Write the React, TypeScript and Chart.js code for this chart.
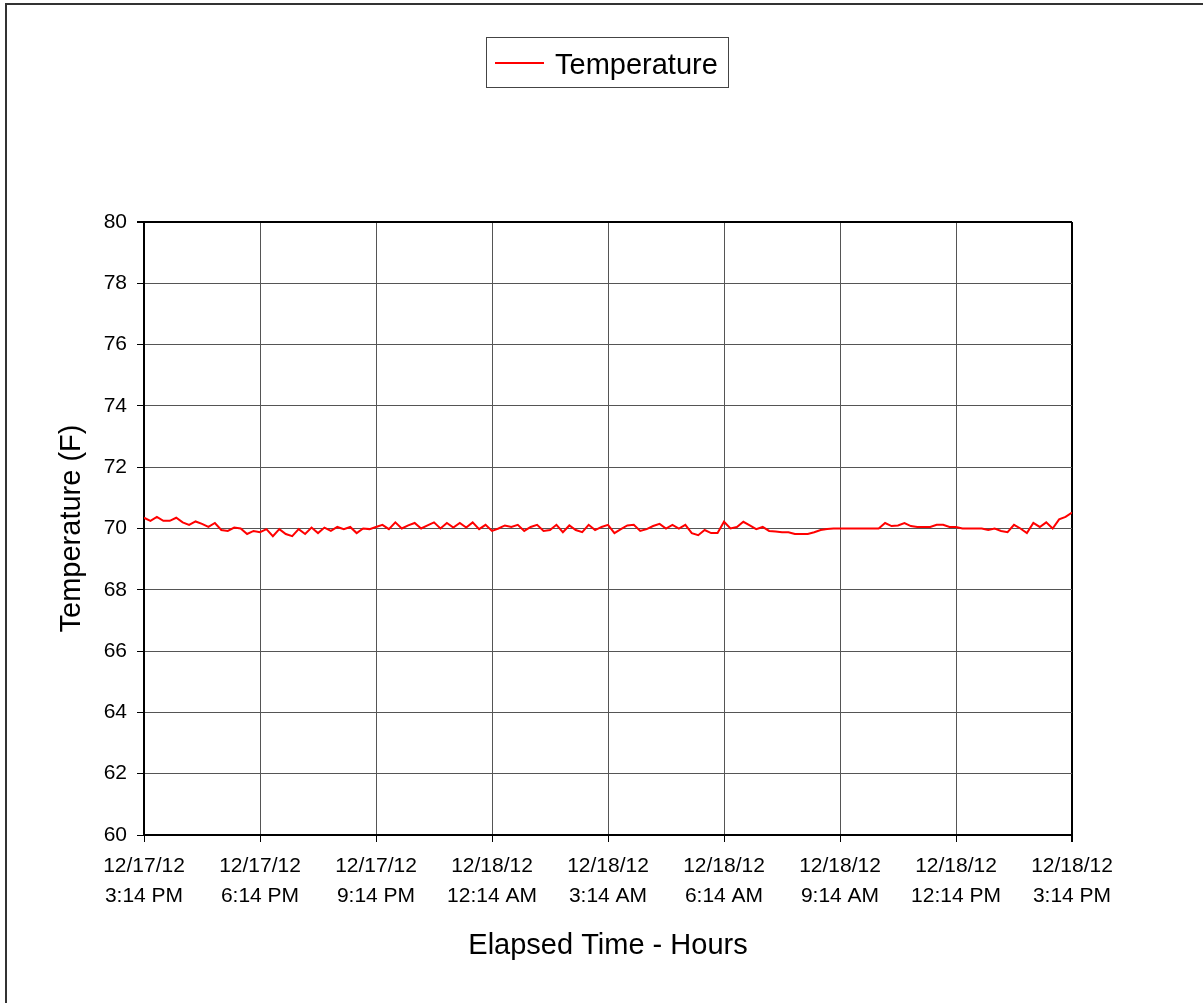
import React, { useEffect, useRef } from "react";
import { Chart, registerables } from "chart.js";

Chart.register(...registerables);

const seriesLabel = "Temperature";
const sampleMinutes = 10;
const temperatureF = [
  70.35, 70.25, 70.38, 70.25, 70.25, 70.35, 70.2, 70.12, 70.23, 70.15,
  70.05, 70.18, 69.95, 69.92, 70.03, 70.0, 69.82, 69.92, 69.88, 69.98,
  69.75, 69.98, 69.82, 69.75, 69.98, 69.82, 70.03, 69.85, 70.03, 69.92,
  70.05, 69.98, 70.05, 69.85, 70.0, 69.98, 70.05, 70.12, 69.98, 70.2,
  70.0, 70.1, 70.18, 70.0, 70.1, 70.2, 70.0, 70.18, 70.03, 70.18,
  70.03, 70.2, 69.98, 70.12, 69.92, 70.0, 70.1, 70.05, 70.12, 69.92,
  70.05, 70.12, 69.92, 69.95, 70.12, 69.88, 70.1, 69.95, 69.88, 70.12,
  69.95, 70.05, 70.12, 69.85, 69.98, 70.1, 70.12, 69.92, 69.98, 70.08,
  70.15, 70.0, 70.12, 70.0, 70.12, 69.85, 69.78, 69.95, 69.85, 69.85,
  70.22, 70.0, 70.05, 70.22, 70.1, 69.98, 70.05, 69.92, 69.9, 69.88,
  69.88, 69.82, 69.82, 69.82, 69.88, 69.95, 69.98, 70.0, 70.0, 70.0,
  70.0, 70.0, 70.0, 70.0, 70.0, 70.18, 70.08, 70.1, 70.18, 70.08,
  70.05, 70.05, 70.05, 70.12, 70.12, 70.05, 70.05, 70.0, 70.0, 70.0,
  70.0, 69.95, 70.0, 69.92, 69.88, 70.12, 70.0, 69.85, 70.18, 70.05,
  70.2, 70.0, 70.3, 70.38, 70.52,
];
const xTickLabels = [
  ["12/17/12", "3:14 PM"],
  ["12/17/12", "6:14 PM"],
  ["12/17/12", "9:14 PM"],
  ["12/18/12", "12:14 AM"],
  ["12/18/12", "3:14 AM"],
  ["12/18/12", "6:14 AM"],
  ["12/18/12", "9:14 AM"],
  ["12/18/12", "12:14 PM"],
  ["12/18/12", "3:14 PM"],
];
const xStepMinutes = 180;
const yMin = 60;
const yMax = 80;
const yStep = 2;
const xTitle = "Elapsed Time - Hours";
const yTitle = "Temperature (F)";

const FONT = "'Liberation Sans', Arial, sans-serif";

const legendPlugin = {
  id: "boxLegend",
  afterDraw(chart: any) {
    const ctx = chart.ctx;
    const ds = chart.data.datasets[0];
    ctx.save();
    ctx.strokeStyle = "#444";
    ctx.lineWidth = 1;
    ctx.strokeRect(486.5, 37.5, 242, 50);
    ctx.strokeStyle = ds.borderColor;
    ctx.lineWidth = 2;
    ctx.beginPath();
    ctx.moveTo(495, 63);
    ctx.lineTo(544, 63);
    ctx.stroke();
    ctx.fillStyle = "#000";
    ctx.font = `29px ${FONT}`;
    ctx.textBaseline = "alphabetic";
    ctx.textAlign = "left";
    ctx.fillText(ds.label, 555, 73.5);
    ctx.restore();
  },
};

export default function App() {
  const ref = useRef<HTMLCanvasElement>(null);
  useEffect(() => {
    const points = temperatureF.map((v, i) => ({ x: i * sampleMinutes, y: v }));
    const xMax = (xTickLabels.length - 1) * xStepMinutes;
    const chart = new Chart(ref.current as HTMLCanvasElement, {
      type: "line",
      data: {
        datasets: [
          {
            label: seriesLabel,
            data: points,
            borderColor: "#FF0000",
            borderWidth: 2,
            pointRadius: 0,
            tension: 0,
            fill: false,
          },
        ],
      },
      options: {
        animation: false,
        responsive: false,
        devicePixelRatio: 1,
        layout: { padding: { top: 222, right: 131, left: 0, bottom: 0 } },
        plugins: { legend: { display: false }, tooltip: { enabled: false } },
        scales: {
          x: {
            type: "linear",
            min: 0,
            max: xMax,
            afterFit: (s: any) => {
              s.height = 1003 - 835;
            },
            ticks: {
              stepSize: xStepMinutes,
              autoSkip: false,
              maxRotation: 0,
              padding: 9,
              color: "#000",
              font: { family: FONT, size: 21, lineHeight: 30 / 21 },
              callback: (_v: any, i: number) => xTickLabels[i],
            },
            grid: {
              color: (c: any) => (c.tick && c.tick.value === xMax ? "#000" : "#555"),
              lineWidth: (c: any) => (c.tick && c.tick.value === xMax ? 2 : 1),
              tickColor: "#000",
              tickLength: 7,
            },
            border: { display: true, color: "#000", width: 2 },
            title: {
              display: true,
              text: xTitle,
              color: "#000",
              font: { family: FONT, size: 29, lineHeight: 1.2 },
              padding: { top: 0, bottom: 40 },
            },
          },
          y: {
            min: yMin,
            max: yMax,
            afterFit: (s: any) => {
              s.width = 144;
            },
            ticks: {
              stepSize: yStep,
              padding: 10,
              color: "#000",
              font: { family: FONT, size: 21 },
            },
            grid: {
              color: (c: any) => (c.tick && c.tick.value === yMax ? "#000" : "#555"),
              lineWidth: (c: any) => (c.tick && c.tick.value === yMax ? 2 : 1),
              tickColor: "#000",
              tickLength: 7,
            },
            border: { display: true, color: "#000", width: 2 },
            title: {
              display: true,
              text: yTitle,
              color: "#000",
              font: { family: FONT, size: 29, lineHeight: 1.2 },
              padding: { top: 55, bottom: 0 },
            },
          },
        },
      },
      plugins: [legendPlugin],
    });
    return () => chart.destroy();
  }, []);

  return (
    <div
      style={{
        position: "fixed",
        left: 0,
        top: 0,
        width: 1203,
        height: 1003,
        overflow: "hidden",
        background: "#fff",
      }}
    >
      <canvas
        ref={ref}
        width={1203}
        height={1003}
        style={{ position: "absolute", left: 0, top: 0, width: 1203, height: 1003 }}
      />
      <div
        style={{
          position: "absolute",
          left: 5,
          top: 3,
          width: 1400,
          height: 1200,
          borderLeft: "2px solid #333",
          borderTop: "2px solid #333",
          pointerEvents: "none",
        }}
      />
    </div>
  );
}
